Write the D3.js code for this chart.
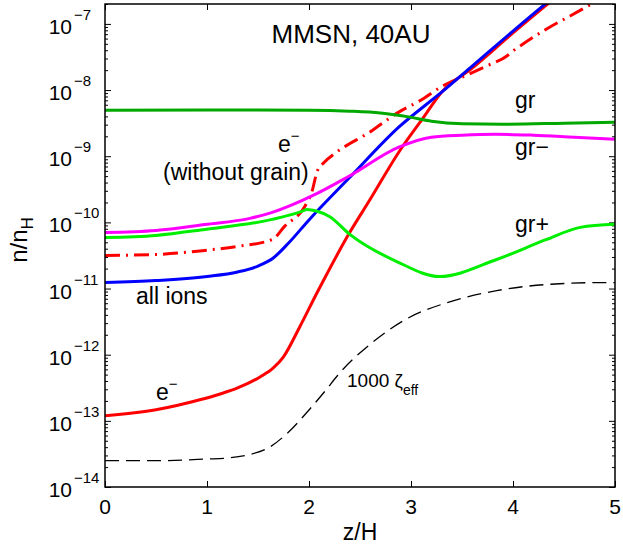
<!DOCTYPE html>
<html><head><meta charset="utf-8">
<script src="https://cdn.jsdelivr.net/npm/d3@7"></script>
<style>
body{margin:0;background:#fff}
svg{display:block}
text{font-family:"Liberation Sans",Arial,Helvetica,sans-serif;fill:#000}
</style>
</head><body>
<svg id="chart" width="623" height="546"></svg>
<script>
// ---- data (z/H and n/nH) ----
const zZeta = [0, 0.5, 1, 1.2, 1.4, 1.6, 1.8, 2.0, 2.15, 2.3, 2.63, 2.96, 3.35, 3.84, 4.33, 4.88, 5];
const zeta  = [2.5e-14, 2.5e-14, 2.65e-14, 2.74e-14, 3.05e-14, 3.89e-14, 6.78e-14, 1.46e-13, 2.73e-13, 5.28e-13, 1.57e-12, 3.5e-12, 6.1e-12, 9.3e-12, 1.15e-11, 1.23e-11, 1.23e-11];

const zNoGrain = [0, 0.5, 0.98, 1.3, 1.64, 1.76, 1.96, 2.03, 2.08, 2.15, 2.27, 2.62, 2.76, 2.88, 3.08, 3.31, 3.55, 3.74, 3.94, 4.0, 4.07, 4.33, 4.56, 4.77, 4.95];
const eNoGrain = [3.16e-11, 3.27e-11, 3.77e-11, 4.33e-11, 5.5e-11, 8.7e-11, 1.75e-10, 2.95e-10, 5.9e-10, 8.1e-10, 1.15e-9, 2.45e-9, 3.5e-9, 4.64e-9, 6.8e-9, 1.15e-8, 1.69e-8, 2.31e-8, 3.27e-8, 3.9e-8, 4.64e-8, 8.4e-8, 1.32e-7, 2.0e-7, 2.85e-7];

const zE   = [0, 0.5, 0.93, 1.13, 1.3, 1.52, 1.65, 1.75, 1.91, 2.08, 2.17, 2.37, 2.6, 2.88, 3.11, 3.3, 3.6, 4.0, 4.33, 4.5];
const eMin = [1.19e-13, 1.47e-13, 2.08e-13, 2.55e-13, 3.14e-13, 4.6e-13, 6.3e-13, 9.3e-13, 2.65e-12, 8.7e-12, 1.6e-11, 5.9e-11, 2.23e-10, 1.15e-9, 3.63e-9, 9.3e-9, 2.15e-8, 7.3e-8, 1.94e-7, 3.16e-7];

const zIons   = [0, 0.5, 1.0, 1.3, 1.5, 1.65, 1.8, 2.0, 2.4, 2.88, 3.3, 3.6, 4.0, 4.33, 4.5];
const allIons = [1.23e-11, 1.32e-11, 1.52e-11, 1.78e-11, 2.19e-11, 2.9e-11, 4.88e-11, 1.09e-10, 4.8e-10, 2.75e-9, 9.3e-9, 2.31e-8, 7.8e-8, 2.08e-7, 3.4e-7];

const zGr = [0, 1, 1.5, 2, 2.4, 2.7, 2.99, 3.2, 3.5, 3.9, 4.5, 5];
const gr  = [4.97e-9, 5.0e-9, 5.0e-9, 4.97e-9, 4.8e-9, 4.5e-9, 3.9e-9, 3.39e-9, 3.1e-9, 3.05e-9, 3.16e-9, 3.27e-9];

const zGrP   = [0, 0.5, 0.98, 1.64, 1.93, 1.98, 2.08, 2.2, 2.4, 2.86, 3.28, 3.84, 4.33, 4.66, 5];
const grPlus = [5.93e-11, 6.36e-11, 7.83e-11, 1.11e-10, 1.47e-10, 1.57e-10, 1.47e-10, 1.23e-10, 6.58e-11, 2.56e-11, 1.52e-11, 2.75e-11, 5.52e-11, 8.4e-11, 9.33e-11];

const zGrM    = [0, 0.5, 0.98, 1.42, 1.64, 2.06, 2.39, 2.88, 3.2, 3.5, 3.83, 4.2, 4.6, 5];
const grMinus = [7.05e-11, 7.56e-11, 9.3e-11, 1.15e-10, 1.42e-10, 2.65e-10, 4.97e-10, 1.37e-9, 1.94e-9, 2.08e-9, 2.15e-9, 2.08e-9, 1.94e-9, 1.81e-9];

const xTicks = [0, 1, 2, 3, 4, 5];
const yExponents = [-14, -13, -12, -11, -10, -9, -8, -7];

// ---- layout ----
const svg = d3.select("#chart");
const L = 105, R = 615, T = 4, B = 487;
const x = d3.scaleLinear().domain([0, 5]).range([L, R]);
const y = d3.scaleLog().domain([1e-14, 2e-7]).range([B, T]);

svg.append("defs").append("clipPath").attr("id", "clip")
  .append("rect").attr("x", L).attr("y", T).attr("width", R - L).attr("height", B - T);

// minor ticks
const minor = [];
yExponents.forEach(e => { for (let m = 2; m <= 9; m++) { const v = m * Math.pow(10, e); if (v <= 2e-7) minor.push(v); } });

const axStyle = g => { g.select(".domain").remove(); g.selectAll("line").attr("stroke", "#000").attr("stroke-width", 1); };

svg.append("g").attr("transform", `translate(${L},0)`)
  .call(d3.axisLeft(y).tickValues(minor).tickSize(-3).tickFormat("")).call(axStyle);
svg.append("g").attr("transform", `translate(${R},0)`)
  .call(d3.axisRight(y).tickValues(minor).tickSize(-3).tickFormat("")).call(axStyle);
svg.append("g").attr("transform", `translate(${L},0)`)
  .call(d3.axisLeft(y).tickValues(yExponents.map(e => Math.pow(10, e))).tickSize(-6).tickFormat("")).call(axStyle);
svg.append("g").attr("transform", `translate(${R},0)`)
  .call(d3.axisRight(y).tickValues(yExponents.map(e => Math.pow(10, e))).tickSize(-6).tickFormat("")).call(axStyle);
svg.append("g").attr("transform", `translate(0,${B})`)
  .call(d3.axisBottom(x).tickValues(xTicks).tickSize(-6).tickFormat("")).call(axStyle);
svg.append("g").attr("transform", `translate(0,${T})`)
  .call(d3.axisTop(x).tickValues(xTicks).tickSize(-6).tickFormat("")).call(axStyle);

// tick labels
svg.append("g").selectAll("text").data(xTicks).join("text")
  .attr("x", d => x(d)).attr("y", B + 27).attr("text-anchor", "middle")
  .attr("font-size", 21).text(d => d);

const yl = svg.append("g").selectAll("g").data(yExponents).join("g");
yl.append("text").attr("x", 72).attr("y", d => y(Math.pow(10, d)) + 10)
  .attr("text-anchor", "end").attr("font-size", 21).text("10");
yl.append("text").attr("x", 74).attr("y", d => y(Math.pow(10, d)) - 4)
  .attr("font-size", 15).text(d => "\u2212" + Math.abs(d));

// lines
const series = [
  {z: zZeta, v: zeta, color: "#000000", w: 1.3, dash: "14,7"},
  {z: zNoGrain, v: eNoGrain, color: "#ff0000", w: 3, dash: "15,6,2,6"},
  {z: zE, v: eMin, color: "#ff0000", w: 3},
  {z: zIons, v: allIons, color: "#0000ff", w: 3},
  {z: zGr, v: gr, color: "#00a800", w: 3},
  {z: zGrP, v: grPlus, color: "#00ee00", w: 3},
  {z: zGrM, v: grMinus, color: "#ff00ff", w: 3}
];
const line = d3.line().x(d => x(d[0])).y(d => y(d[1])).curve(d3.curveMonotoneX);
const lg = svg.append("g").attr("clip-path", "url(#clip)");
series.forEach(s => {
  lg.append("path").datum(s.z.map((z, i) => [z, s.v[i]]))
    .attr("d", line).attr("fill", "none").attr("stroke", s.color)
    .attr("stroke-width", s.w).attr("stroke-dasharray", s.dash || null)
    .attr("stroke-linejoin", "round");
});

// frame
svg.append("rect").attr("x", L).attr("y", T).attr("width", R - L).attr("height", B - T)
  .attr("fill", "none").attr("stroke", "#000").attr("stroke-width", 1.5);

// axis labels
svg.append("text").attr("x", (L + R) / 2).attr("y", 540).attr("text-anchor", "middle")
  .attr("font-size", 23).text("z/H");
const ylab = svg.append("text").attr("transform", "translate(27,240) rotate(-90)")
  .attr("text-anchor", "middle").attr("font-size", 24);
ylab.append("tspan").text("n/n");
ylab.append("tspan").attr("font-size", 17).attr("dy", 6).text("H");

// title
svg.append("text").attr("x", 351).attr("y", 43).attr("text-anchor", "middle")
  .attr("font-size", 26).text("MMSN, 40AU");

// annotations
const ann = (txt, px, py, fs) => svg.append("text").attr("x", px).attr("y", py).attr("font-size", fs || 23).text(txt);
ann("gr", 515, 108);
ann("gr\u2212", 515, 155);
ann("gr+", 515, 232);
ann("all ions", 136, 304);
ann("(without grain)", 163, 180);
const e1 = svg.append("text").attr("x", 278).attr("y", 152).attr("font-size", 23);
e1.append("tspan").text("e");
e1.append("tspan").attr("font-size", 15).attr("dy", -11).text("\u2212");
const e2 = svg.append("text").attr("x", 156).attr("y", 400).attr("font-size", 23);
e2.append("tspan").text("e");
e2.append("tspan").attr("font-size", 15).attr("dy", -11).text("\u2212");
const zt = svg.append("text").attr("x", 347).attr("y", 387).attr("font-size", 19);
zt.append("tspan").text("1000 \u03b6");
zt.append("tspan").attr("font-size", 14).attr("dy", 8).text("eff");
</script>
</body></html>
